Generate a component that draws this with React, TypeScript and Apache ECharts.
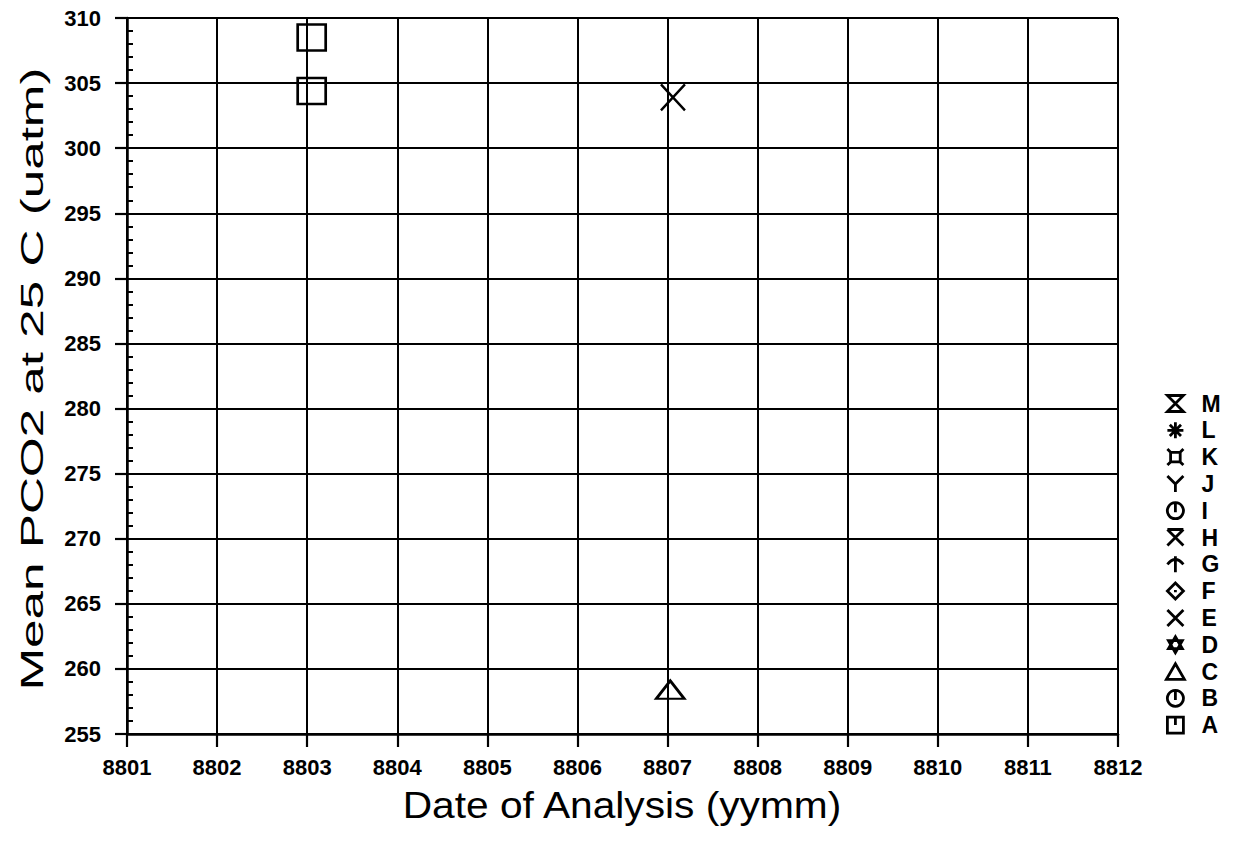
import React, { useEffect, useRef } from "react";
import * as echarts from "echarts";

const seriesNames = ["A", "B", "C", "D", "E", "F", "G", "H", "I", "J", "K", "L", "M"];
// [date (yymm), mean PCO2]
const dataA: number[][] = [
  [8803.05, 308.5],
  [8803.05, 304.4],
];
const dataC: number[][] = [[8807.03, 258.4]];
const dataH: number[][] = [[8807.06, 303.9]];
const seriesData: Record<string, number[][]> = { A: dataA, C: dataC, H: dataH };

const xTitle = "Date of Analysis (yymm)";
const yTitle = "Mean PCO2 at 25 C (uatm)";

const legendIcons: Record<string, string> = {
  A: "path://M0,0H10V10H0Z M5,0V5",
  B: "path://M5,0A5,5 0 1,0 5.01,0Z M5,0V6",
  C: "path://M5,0L10,8.66H0Z",
  D: "path://M5,0L9.33,7.5H0.67Z M5,10L0.67,2.5H9.33Z",
  E: "path://M1,1L9,9M9,1L1,9",
  F: "path://M5,0L10,5L5,10L0,5Z M5,4.3V5.7",
  G: "path://M5,0V10M0,5Q5,-1 10,5",
  H: "path://M0,0H10M0,0L10,10M10,0L0,10",
  I: "path://M5,0A5,5 0 1,0 5.01,0Z M5,0V6",
  J: "path://M0,0L5,5L10,0M5,5V10",
  K: "path://M2,2H8V8H2Z M0,0L2,2M10,0L8,2M0,10L2,8M10,10L8,8",
  L: "path://M5,0V10M0,5H10M1.5,1.5L8.5,8.5M8.5,1.5L1.5,8.5",
  M: "path://M0,0H10L0,10H10Z",
};
const seriesSymbols: Record<string, string> = {
  A: "path://M0,0H10V10H0Z",
  C: "path://M5,0L10,7H0Z",
  H: "path://M0,0L10,10M10,0L0,10",
};
const symbolSizes: Record<string, number[]> = {
  A: [28, 26],
  C: [28, 18],
  H: [24, 26],
};

const xTicks = { min: 8801, max: 8812, interval: 1 };
const yTicks = { min: 255, max: 310, interval: 5 };

export default function App() {
  const ref = useRef<HTMLDivElement>(null);
  useEffect(() => {
    if (!ref.current) return;
    const chart = echarts.init(ref.current, null, { renderer: "svg" });
    const font = "Liberation Sans, Arial, sans-serif";
    chart.setOption({
      animation: false,
      backgroundColor: "#fff",
      textStyle: { fontFamily: font, color: "#000" },
      grid: { left: 127, right: 117, top: 18, bottom: 108, containLabel: false },
      graphic: [
        {
          type: "text",
          x: 622,
          y: 805,
          scaleX: 1.1,
          style: { text: xTitle, fontSize: 37, fontFamily: font, fill: "#000", align: "center", verticalAlign: "middle" },
        },
        {
          type: "text",
          x: 32,
          y: 379,
          rotation: Math.PI / 2,
          scaleX: 1.6,
          style: { text: yTitle, fontSize: 32, fontFamily: font, fill: "#000", align: "center", verticalAlign: "middle" },
        },
      ],
      legend: {
        orient: "vertical",
        left: 1165,
        top: 392,
        padding: 0,
        itemWidth: 18,
        itemHeight: 16,
        itemGap: 3.8,
        selectedMode: false,
        inactiveColor: "#000",
        itemStyle: { color: "transparent", borderColor: "#000", borderWidth: 2.8, opacity: 1 },
        textStyle: {
          fontSize: 23,
          fontWeight: "bold",
          color: "#000",
          fontFamily: font,
          padding: [0, 0, 0, 12],
        },
        data: seriesNames
          .slice()
          .reverse()
          .map((n) => ({ name: n, icon: legendIcons[n] })),
      },
      xAxis: {
        type: "value",
        min: xTicks.min,
        max: xTicks.max,
        interval: xTicks.interval,
        axisLine: { show: true, onZero: false, lineStyle: { color: "#000", width: 2.5 } },
        axisTick: { show: true, length: 13, lineStyle: { color: "#000", width: 2.2 } },
        axisLabel: {
          fontSize: 22,
          fontWeight: "bold",
          color: "#000",
          margin: 22,
          formatter: (v: number) => String(Math.round(v)),
        },
        splitLine: { show: true, lineStyle: { color: "#000", width: 2 } },
      },
      yAxis: [
        {
          type: "value",
          min: yTicks.min,
          max: yTicks.max,
          interval: yTicks.interval,
          axisLine: { show: true, onZero: false, lineStyle: { color: "#000", width: 2.5 } },
          axisTick: { show: true, length: 12, lineStyle: { color: "#000", width: 2.2 } },
          axisLabel: { fontSize: 22, fontWeight: "bold", color: "#000", margin: 26 },
          splitLine: { show: true, lineStyle: { color: "#000", width: 2 } },
        },
        {
          type: "value",
          position: "left",
          min: yTicks.min,
          max: yTicks.max,
          interval: yTicks.interval,
          axisLine: { show: false },
          axisLabel: { show: false },
          axisTick: { show: false, inside: true },
          minorTick: { show: true, splitNumber: 5, length: 6, lineStyle: { color: "#000", width: 2 } },
          splitLine: { show: false },
        },
      ],
      series: seriesNames.map((n) => ({
        name: n,
        type: "scatter",
        data: seriesData[n] || [],
        symbol: seriesSymbols[n] || legendIcons[n],
        symbolSize: symbolSizes[n] || [16, 16],
        itemStyle: { color: "transparent", borderColor: "#000", borderWidth: 2.6, opacity: 1 },
        z: 5,
      })),
    });
    return () => chart.dispose();
  }, []);
  return <div ref={ref} style={{ position: "fixed", left: 0, top: 0, width: 1235, height: 842 }} />;
}
